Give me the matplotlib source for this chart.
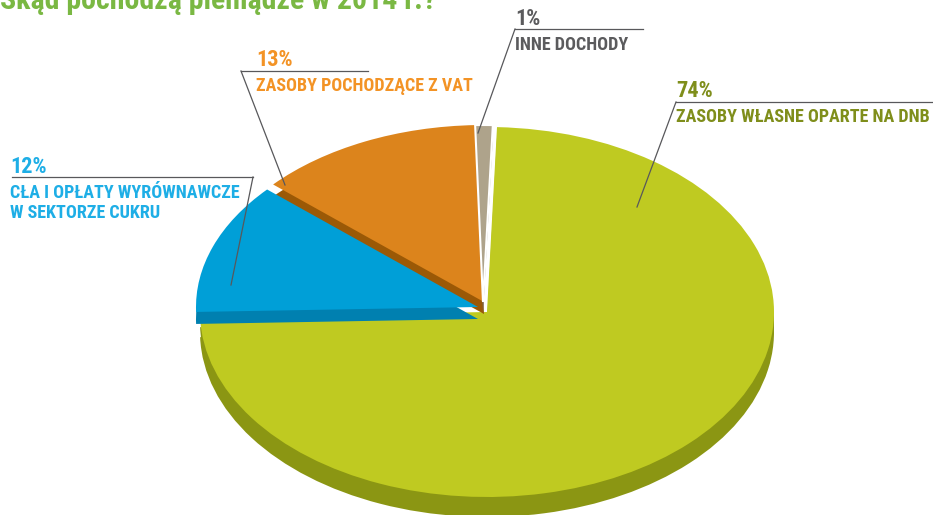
import numpy as np
import matplotlib
matplotlib.use("Agg")
import matplotlib.pyplot as plt
from matplotlib import font_manager

# data
title = "Skąd pochodzą pieniądze w 2014 r.?"
names = ["ZASOBY WŁASNE OPARTE NA DNB",
         "CŁA I OPŁATY WYRÓWNAWCZE\nW SEKTORZE CUKRU",
         "ZASOBY POCHODZĄCE Z VAT",
         "INNE DOCHODY"]
shares = [74, 12, 13, 1]

top_colors = ["#bfca21", "#009fd7", "#dc841c", "#aea38b"]
side_colors = ["#8b9613", "#0080b0", "#9b5906", "#6f6a5f"]
text_colors = ["#7f8e1b", "#1eaee6", "#f39325", "#5b5b5d"]
line_color = "#58585b"

# pick a condensed face if one is installed
installed = {f.name for f in font_manager.fontManager.ttflist}
fam = "DejaVu Sans"
for cand in ["Liberation Sans Narrow", "Roboto Condensed", "Open Sans Condensed", "DejaVu Sans Condensed"]:
    if cand in installed:
        fam = cand
        break
plt.rcParams["font.family"] = [fam, "DejaVu Sans"]

W, H = 933, 515
fig = plt.figure(figsize=(W / 100, H / 100), dpi=100)
LIM = 1.3
START = 88


def ellipse_axes(cx, cy, rx, ry):
    # unit circle of the pie squashed into an ellipse of rx, ry pixels
    a = fig.add_axes([(cx - LIM * rx) / W, (H - cy - LIM * ry) / H,
                      2 * LIM * rx / W, 2 * LIM * ry / H])
    return a


def layer(a, rx, ry, dx, dy, colors, idx, z, edge=None):
    wedges, _ = a.pie(shares, colors=colors, startangle=START, counterclock=False,
                      center=(dx / rx, dy / ry), radius=1)
    for i, w in enumerate(wedges):
        w.set_visible(i == idx)
        w.set_zorder(z)
        if edge:
            w.set_edgecolor("white")
            w.set_linewidth(edge)
        else:
            w.set_linewidth(0)


def finish(a):
    a.set_aspect("auto")
    a.set_xlim(-LIM, LIM)
    a.set_ylim(-LIM, LIM)
    a.axis("off")


# big slice: its own slab, a little lower and wider
GRX, GRY = 287, 185
axg = ellipse_axes(487, 312, GRX, GRY)
for d in (20, 10):
    layer(axg, GRX, GRY, 0, -d, side_colors, 0, 1)
layer(axg, GRX, GRY, 0, 0, top_colors, 0, 2)
finish(axg)

# the three small slices, sitting higher
SRX, SRY = 282, 177
axs = ellipse_axes(484, 302, SRX, SRY)
thick = 12
offs = {1: (-6, -5), 2: (0, 0), 3: (-1, 0)}
order = [(1, "side"), (2, "side"), (1, "top"), (2, "top"), (3, "side"), (3, "top")]
for z, (i, part) in enumerate(order):
    dx, dy = offs[i]
    if part == "side":
        layer(axs, SRX, SRY, dx, dy - thick, side_colors, i, z + 1)
    else:
        layer(axs, SRX, SRY, dx, dy, top_colors, i, z + 1, edge=1.5 if i == 3 else None)
finish(axs)

# overlay axes in pixel units for labels and leader lines
ax = fig.add_axes([0, 0, 1, 1])
ax.set_xlim(0, W)
ax.set_ylim(H, 0)
ax.axis("off")
ax.patch.set_visible(False)

ax.text(0, 9, title, color="#7ab843", fontsize=21.5, fontweight="bold", va="baseline")

# (text x, pct baseline, underline y, line start x, line end x, elbow x, tip x, tip y)
label_pos = [
    (676, 97, 102, 676, 933, 676, 637, 207),
    (10, 173, 177, 12, 253, 253, 231, 285),
    (256, 66, 71, 241, 368, 241, 285, 185),
    (515, 25, 29, 515, 643, 515, 478, 133),
]
for i, (tx, pb, ly, lx1, lx2, ex, tipx, tipy) in enumerate(label_pos):
    ax.text(tx, pb, f"{shares[i]}%", color=text_colors[i], fontsize=16,
            fontweight="bold", va="baseline")
    ax.plot([lx1, lx2], [ly, ly], color=line_color, lw=0.9)
    ax.plot([ex, tipx], [ly, tipy], color=line_color, lw=0.9)
    for k, line in enumerate(names[i].split("\n")):
        ax.text(tx, pb + 25 + k * 20, line, color=text_colors[i], fontsize=13,
                fontweight="bold", va="baseline")

fig.savefig("out.png", dpi=100)
